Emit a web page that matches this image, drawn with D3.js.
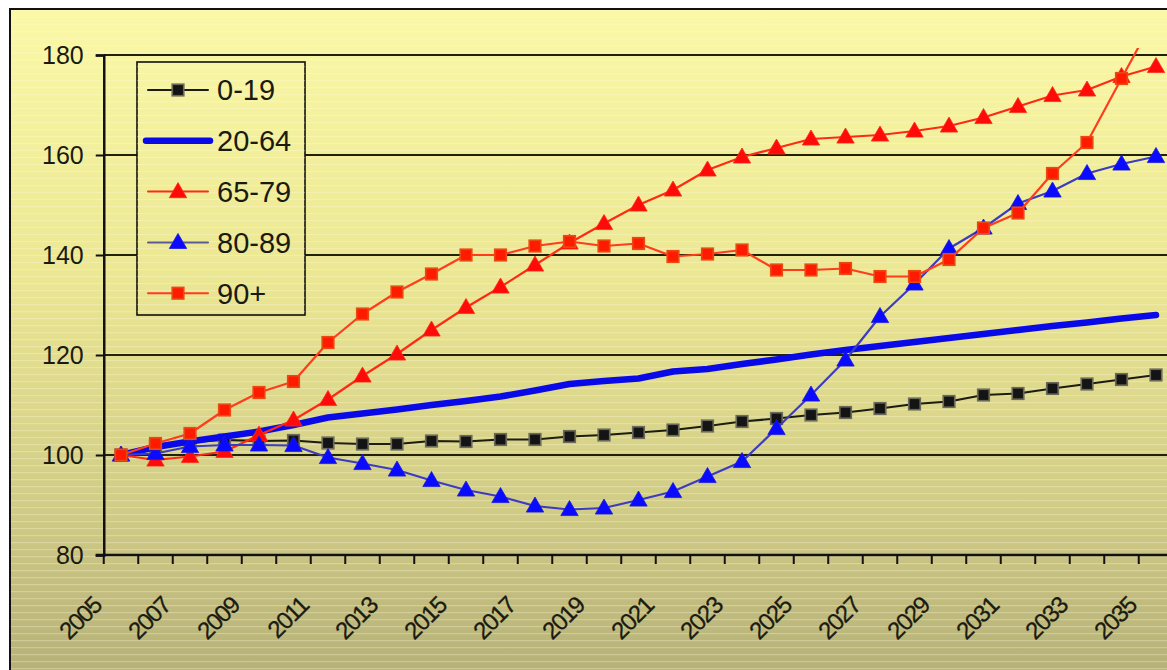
<!DOCTYPE html>
<html><head><meta charset="utf-8">
<script src="https://cdn.jsdelivr.net/npm/d3@7"></script>
<style>
body{margin:0;background:#fff;}
svg{display:block;font-family:"Liberation Sans",Arial,sans-serif;}
</style>
</head><body>
<svg id="c" width="1167" height="670"></svg>
<script>
// ---- data ----
const years = [2005,2006,2007,2008,2009,2010,2011,2012,2013,2014,2015,2016,2017,2018,2019,2020,
               2021,2022,2023,2024,2025,2026,2027,2028,2029,2030,2031,2032,2033,2034,2035];
const xTickLabels = [2005,2007,2009,2011,2013,2015,2017,2019,2021,2023,2025,2027,2029,2031,2033,2035];
const yTicks = [80,100,120,140,160,180];
const seriesNames = ["0-19","20-64","65-79","80-89","90+"];
const age0_19  = [100,101.8,102.6,103.0,102.8,102.9,102.4,102.2,102.2,102.8,102.7,103.1,103.1,103.7,104.0,104.5,
                  105.0,105.8,106.7,107.3,108.0,108.5,109.3,110.2,110.7,112.0,112.3,113.3,114.2,115.1,116.0];
const age20_64 = [100,101.6,102.7,103.7,104.7,106.0,107.5,108.3,109.1,110.0,110.8,111.7,112.9,114.2,114.8,115.3,
                  116.7,117.2,118.2,119.1,120.1,121.0,121.8,122.6,123.4,124.2,125.0,125.8,126.5,127.3,128.0];
const age65_79 = [100,99.0,99.7,100.7,104.0,107.0,111.1,115.8,120.2,125.0,129.5,133.6,138.0,142.4,146.3,150.0,
                  153.0,157.0,159.6,161.4,163.2,163.6,164.0,164.8,165.8,167.5,169.7,171.9,173.0,175.7,177.7];
const age80_89 = [100,100.3,101.7,102.0,102.0,101.9,99.5,98.3,97.0,94.9,93.0,91.7,89.8,89.1,89.4,91.0,
                  92.7,95.7,98.7,105.3,112.0,119.0,127.7,134.2,141.3,145.4,150.3,152.8,156.3,158.2,159.7];
const age90    = [100,102.3,104.3,109.0,112.5,114.7,122.5,128.2,132.6,136.2,140.0,140.0,141.8,142.7,141.8,142.3,
                  139.7,140.2,141.0,137.0,137.0,137.3,135.7,135.7,139.1,145.4,148.4,156.3,162.5,175.3,188.0];

// ---- styles ----
const styles = [
  {name:seriesNames[0], values:age0_19,  line:"#1c1c10", width:2.2, marker:"square",   fill:"#141414", stroke:"#6a6a5a", legendLine:"#1c1c10"},
  {name:seriesNames[1], values:age20_64, line:"#0a0ae8", width:6.5, marker:null,                                           legendLine:"#0a0ae8"},
  {name:seriesNames[2], values:age65_79, line:"#ff2a12", width:2.2, marker:"triangle", fill:"#ff0a0a", stroke:"#ff2a12", legendLine:"#ff2a12"},
  {name:seriesNames[3], values:age80_89, line:"#3c3cc0", width:2.2, marker:"triangle", fill:"#0a0aff", stroke:"#1a1ae0", legendLine:"#5a5a98"},
  {name:seriesNames[4], values:age90,    line:"#ff3c1c", width:2.2, marker:"square",   fill:"#ff1a00", stroke:"#e84a10", legendLine:"#ff3c1c"}
];

const svg = d3.select("#c");
const W = 1167, H = 670;
const plot = {left:103.75, right:1173.25, top:55, bottom:555};

const x = d3.scaleBand().domain(years).range([plot.left, plot.right]).padding(0);
const cx = yr => x(yr) + x.bandwidth()/2;
const y = d3.scaleLinear().domain([80,180]).range([plot.bottom, plot.top]);

// ---- defs ----
const defs = svg.append("defs");
const g = defs.append("linearGradient").attr("id","bg")
  .attr("gradientUnits","userSpaceOnUse").attr("x1",0).attr("y1",9).attr("x2",0).attr("y2",H);
g.append("stop").attr("offset","0%").attr("stop-color","#fbf9a6");
g.append("stop").attr("offset","40%").attr("stop-color","#ebe793");
g.append("stop").attr("offset","75%").attr("stop-color","#d1cc86");
g.append("stop").attr("offset","100%").attr("stop-color","#b6b178");
const pat = defs.append("pattern").attr("id","stripes").attr("patternUnits","userSpaceOnUse")
  .attr("width",20).attr("height",7);
pat.append("rect").attr("x",0).attr("y",3).attr("width",20).attr("height",1.2)
  .attr("fill","#fffbe0").attr("opacity",0.3);
defs.append("clipPath").attr("id","plotclip").append("rect")
  .attr("x",plot.left).attr("y",48).attr("width",plot.right-plot.left).attr("height",plot.bottom-48+2);

// ---- background / frame ----
svg.append("rect").attr("x",10).attr("y",9).attr("width",W).attr("height",H)
  .attr("fill","url(#bg)");
svg.append("rect").attr("x",10).attr("y",9).attr("width",W).attr("height",H)
  .attr("fill","url(#stripes)");
svg.append("rect").attr("x",10).attr("y",9).attr("width",W+10).attr("height",H+10)
  .attr("fill","none").attr("stroke","#111").attr("stroke-width",2);

// ---- gridlines ----
svg.append("g").selectAll("line").data(yTicks.filter(t=>t>80)).join("line")
  .attr("x1",plot.left).attr("x2",W+5).attr("y1",d=>y(d)).attr("y2",d=>y(d))
  .attr("stroke","#22220a").attr("stroke-width",2);

// ---- y axis ----
const yAxis = svg.append("g").attr("transform",`translate(${plot.left},0)`)
  .call(d3.axisLeft(y).tickValues(yTicks).tickSize(8).tickPadding(12).tickFormat(d3.format("d")));
yAxis.select(".domain").attr("stroke","#111").attr("stroke-width",2.5);
yAxis.selectAll(".tick line").attr("stroke","#111").attr("stroke-width",2);
yAxis.selectAll(".tick text").attr("fill","#1a1a10").style("font-size","25px")
  .style("font-family",'"Liberation Sans",Arial,sans-serif').attr("dy","0.35em");

// ---- x axis ----
svg.append("line").attr("x1",plot.left-8).attr("x2",W+5).attr("y1",plot.bottom).attr("y2",plot.bottom)
  .attr("stroke","#111").attr("stroke-width",2.5);
svg.append("g").selectAll("line").data(years).join("line")
  .attr("x1",d=>x(d)).attr("x2",d=>x(d)).attr("y1",plot.bottom).attr("y2",plot.bottom+9)
  .attr("stroke","#111").attr("stroke-width",2);
svg.append("g").selectAll("text").data(xTickLabels).join("text")
  .attr("transform",d=>`translate(${cx(d)-18},${607}) rotate(-45)`)
  .attr("text-anchor","end").attr("fill","#1a1a10")
  .attr("stroke","#1a1a10").attr("stroke-width",0.3)
  .style("font-size","24px").style("letter-spacing","-1.4px")
  .text(d=>d);

// ---- series ----
const lineGen = vals => d3.line().x((d,i)=>cx(years[i])).y(d=>y(d))(vals);
const sq = 11.5;
const triPath = (px,py,s) => `M${px},${py-s*0.62}L${px+s*0.6},${py+s*0.42}L${px-s*0.6},${py+s*0.42}Z`;
const layer = svg.append("g").attr("clip-path","url(#plotclip)");
function drawMarker(sel, st, px, py){
  if(st.marker==="square"){
    sel.append("rect").attr("x",px-sq/2).attr("y",py-sq/2).attr("width",sq).attr("height",sq)
      .attr("fill",st.fill).attr("stroke",st.stroke).attr("stroke-width",1.7);
  } else if(st.marker==="triangle"){
    sel.append("path").attr("d",triPath(px,py,14.5)).attr("fill",st.fill).attr("stroke",st.stroke).attr("stroke-width",0.8);
  }
}
styles.forEach(st=>{
  const gg = layer.append("g");
  gg.append("path").attr("d",lineGen(st.values)).attr("fill","none")
    .attr("stroke",st.line).attr("stroke-width",st.width)
    .attr("stroke-linejoin","round").attr("stroke-linecap","round");
  if(st.marker){
    st.values.forEach((v,i)=>drawMarker(gg, st, cx(years[i]), y(v)));
  }
});

// ---- legend ----
const lg = svg.append("g");
lg.append("rect").attr("x",137).attr("y",62).attr("width",168).attr("height",253)
  .attr("fill","url(#bg)").attr("stroke","#111").attr("stroke-width",1.6);
lg.append("rect").attr("x",137).attr("y",62).attr("width",168).attr("height",253)
  .attr("fill","url(#stripes)");
styles.forEach((st,i)=>{
  const ly = 90 + i*50.8;
  lg.append("line").attr("x1",st.marker?148:146).attr("x2",st.marker?208:210).attr("y1",ly).attr("y2",ly)
    .attr("stroke",st.legendLine).attr("stroke-width",st.marker?2:6.5).attr("stroke-linecap","round");
  drawMarker(lg, st, 178, ly);
  lg.append("text").attr("x",217).attr("y",ly).attr("dy","0.36em")
    .attr("fill","#1a1a10").style("font-size","29px").text(st.name);
});
</script>
</body></html>
